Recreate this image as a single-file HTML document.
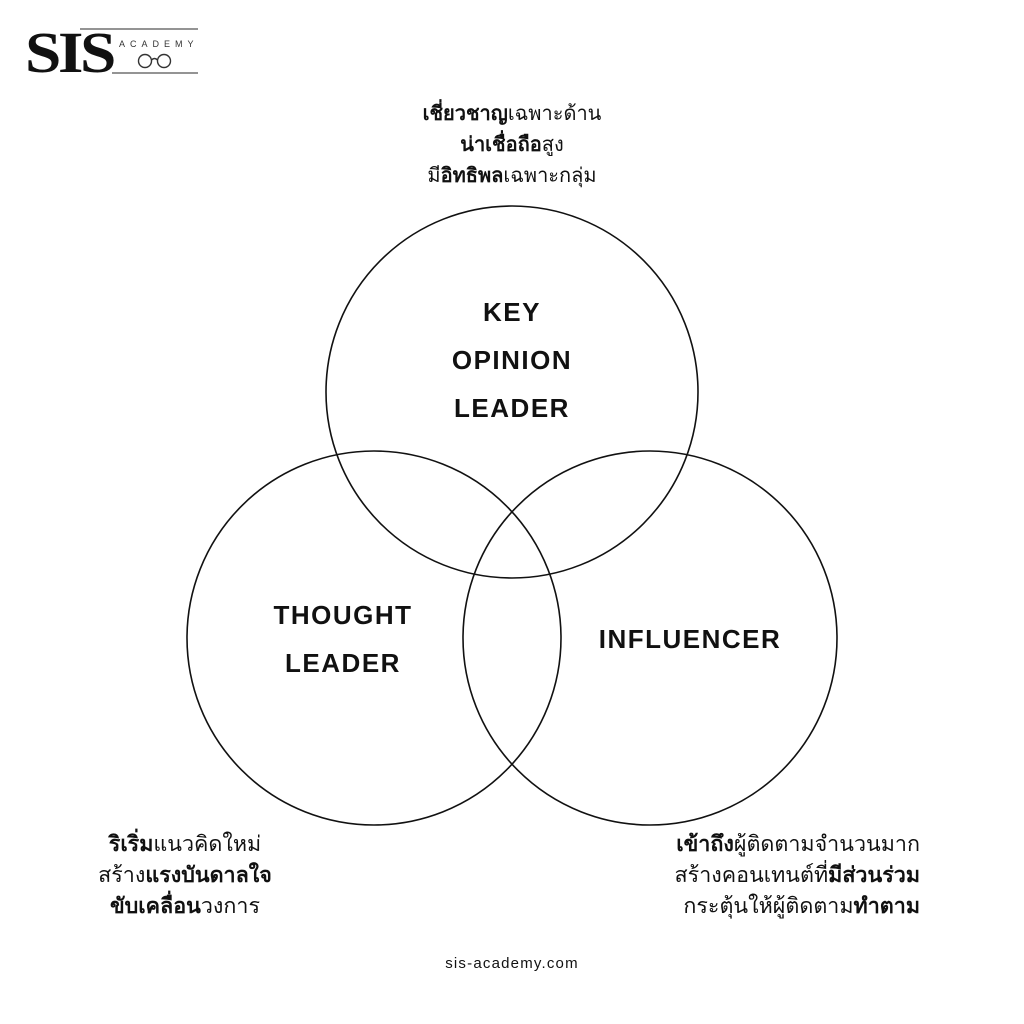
<!DOCTYPE html>
<html><head><meta charset="utf-8"><style>
body{margin:0;width:1024px;height:1024px;background:#fff;position:relative;overflow:hidden;font-family:"Liberation Sans","Noto Sans CJK SC",sans-serif;color:#111}
.t{position:absolute;font-size:20px;line-height:31px;font-family:"Liberation Sans","Noto Sans CJK SC","WenQuanYi Zen Hei",sans-serif}
.t b{font-weight:bold}
.lbl{position:absolute;font-weight:bold;font-size:26px;letter-spacing:1.5px;text-align:center;line-height:48px}
</style></head><body>
<svg width="1024" height="1024" style="position:absolute;left:0;top:0">
<g fill="none" stroke="#111" stroke-width="1.6">
<circle cx="512" cy="392" r="186"/>
<circle cx="374" cy="638" r="187"/>
<circle cx="650" cy="638" r="187"/>
</g>
<line x1="80" y1="29" x2="198" y2="29" stroke="#555" stroke-width="1.2"/>
<line x1="112" y1="73" x2="198" y2="73" stroke="#555" stroke-width="1.2"/>
<text x="25" y="72" font-family="Liberation Serif" font-weight="bold" font-size="58" fill="#111" letter-spacing="-3" textLength="88" lengthAdjust="spacingAndGlyphs">SIS</text>
<text x="119" y="47" font-family="Liberation Sans" font-size="9" fill="#333" letter-spacing="5">ACADEMY</text>
<g fill="none" stroke="#333" stroke-width="1.4"><circle cx="145" cy="61" r="6.5"/><circle cx="164" cy="61" r="6.5"/><path d="M151.5 60 Q154.5 57 157.5 60"/></g>
</svg>
<div class="t" style="left:312px;top:99px;width:400px;text-align:center"><b>เชี่ยวชาญ</b>เฉพาะด้าน<br><b>น่าเชื่อถือ</b>สูง<br>มี<b>อิทธิพล</b>เฉพาะกลุ่ม</div>
<div class="lbl" style="left:362px;top:288px;width:300px">KEY<br>OPINION<br>LEADER</div>
<div class="lbl" style="left:193px;top:591px;width:300px">THOUGHT<br>LEADER</div>
<div class="lbl" style="left:540px;top:615px;width:300px">INFLUENCER</div>
<div class="t" style="left:30px;top:829px;width:310px;text-align:center;font-size:21.5px"><b>ริเริ่ม</b>แนวคิดใหม่<br>สร้าง<b>แรงบันดาลใจ</b><br><b>ขับเคลื่อน</b>วงการ</div>
<div class="t" style="left:600px;top:829px;width:320px;text-align:right;font-size:21.5px"><b>เข้าถึง</b>ผู้ติดตามจำนวนมาก<br>สร้างคอนเทนต์ที่<b>มีส่วนร่วม</b><br>กระตุ้นให้ผู้ติดตาม<b>ทำตาม</b></div>
<div style="position:absolute;left:362px;top:955px;width:300px;text-align:center;font-size:15px;letter-spacing:1.2px">sis-academy.com</div>
</body></html>
